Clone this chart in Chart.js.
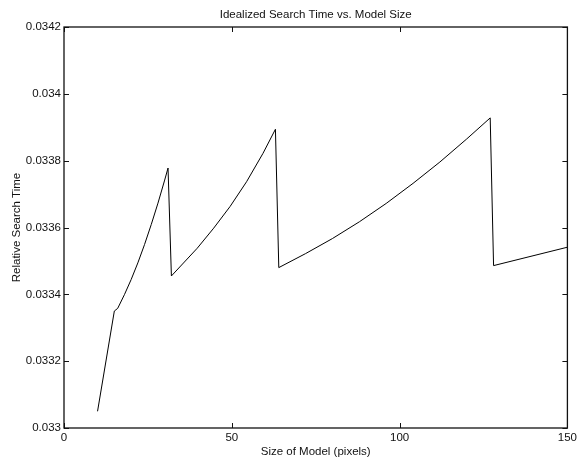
<!DOCTYPE html>
<html>
<head>
<meta charset="utf-8">
<script src="https://cdn.jsdelivr.net/npm/chart.js@4"></script>
<style>
  body { margin: 0; background: #fff; }
  #wrap { width: 580px; height: 459px; }
</style>
</head>
<body>
<div id="wrap"><canvas id="searchChart"></canvas></div>
<script>
// model size (pixels) and relative search time
const modelSizes = [10, 15, 16, 18, 20, 22, 24, 26, 28, 30, 31,
  32, 39.7, 44.6, 49.5, 54.4, 59.3, 63,
  64, 72, 80, 88, 96, 104, 112, 120, 127,
  128, 150];
const searchTimes = [0.03305, 0.03335, 0.033358, 0.033399, 0.033444, 0.033494, 0.033549, 0.033609, 0.033673, 0.033742, 0.033778,
  0.033455, 0.033538, 0.033598, 0.033663, 0.033737, 0.033822, 0.033894,
  0.03348, 0.033522, 0.033567, 0.033617, 0.033672, 0.033732, 0.033796, 0.033865, 0.033928,
  0.033486, 0.033541];

const xTicks = [0, 50, 100, 150];
const yTicks = [0.033, 0.0332, 0.0334, 0.0336, 0.0338, 0.034, 0.0342];

const font = { family: "'Liberation Sans', Arial, sans-serif", size: 11.5 };
const ink = "#111";

// box around the plot with inward tick marks on all four sides
const boxAxes = {
  id: "boxAxes",
  afterDraw(chart) {
    const { ctx, chartArea: a, scales } = chart;
    const len = 5;
    ctx.save();
    ctx.strokeStyle = ink;
    ctx.lineWidth = 1;
    ctx.beginPath();
    xTicks.forEach(v => {
      const x = Math.round(scales.x.getPixelForValue(v)) + 0.5;
      ctx.moveTo(x, a.bottom); ctx.lineTo(x, a.bottom - len);
      ctx.moveTo(x, a.top); ctx.lineTo(x, a.top + len);
    });
    yTicks.forEach(v => {
      const y = Math.round(scales.y.getPixelForValue(v)) + 0.5;
      ctx.moveTo(a.left, y); ctx.lineTo(a.left + len, y);
      ctx.moveTo(a.right, y); ctx.lineTo(a.right - len, y);
    });
    ctx.stroke();
    ctx.lineWidth = 1.3;
    ctx.strokeRect(a.left, a.top, a.right - a.left, a.bottom - a.top);
    ctx.restore();
  }
};

const ctx = document.getElementById("searchChart").getContext("2d");
new Chart(ctx, {
  type: "scatter",
  data: {
    datasets: [{
      data: modelSizes.map((s, i) => ({ x: s, y: searchTimes[i] })),
      showLine: true,
      borderColor: "#000",
      borderWidth: 1,
      pointRadius: 0,
      tension: 0
    }]
  },
  options: {
    responsive: true,
    maintainAspectRatio: false,
    animation: false,
    layout: { padding: { left: 0, right: 8, top: 0, bottom: 0 } },
    plugins: {
      legend: { display: false },
      tooltip: { enabled: false },
      title: {
        display: true,
        text: "Idealized Search Time vs. Model Size",
        fullSize: false,
        color: ink,
        font: { ...font, weight: "normal" },
        padding: { top: 8, bottom: 5.2 }
      }
    },
    scales: {
      x: {
        type: "linear",
        min: 0,
        max: 150,
        afterFit: s => { s.height = 31; },
        afterBuildTicks: s => { s.ticks = xTicks.map(v => ({ value: v })); },
        grid: { display: false, drawTicks: false },
        border: { display: false },
        ticks: { color: ink, font, padding: 3, maxRotation: 0, callback: v => String(v) },
        title: { display: true, text: "Size of Model (pixels)", color: ink, font, padding: { top: 0, bottom: 0 } }
      },
      y: {
        type: "linear",
        min: 0.033,
        max: 0.0342,
        afterFit: s => { s.width = 64; },
        afterBuildTicks: s => { s.ticks = yTicks.map(v => ({ value: v })); },
        grid: { display: false, drawTicks: false },
        border: { display: false },
        ticks: { color: ink, font, padding: 3, callback: v => String(v) },
        title: { display: true, text: "Relative Search Time", color: ink, font, padding: { top: 10, bottom: 0 } }
      }
    }
  },
  plugins: [boxAxes]
});
</script>
</body>
</html>
